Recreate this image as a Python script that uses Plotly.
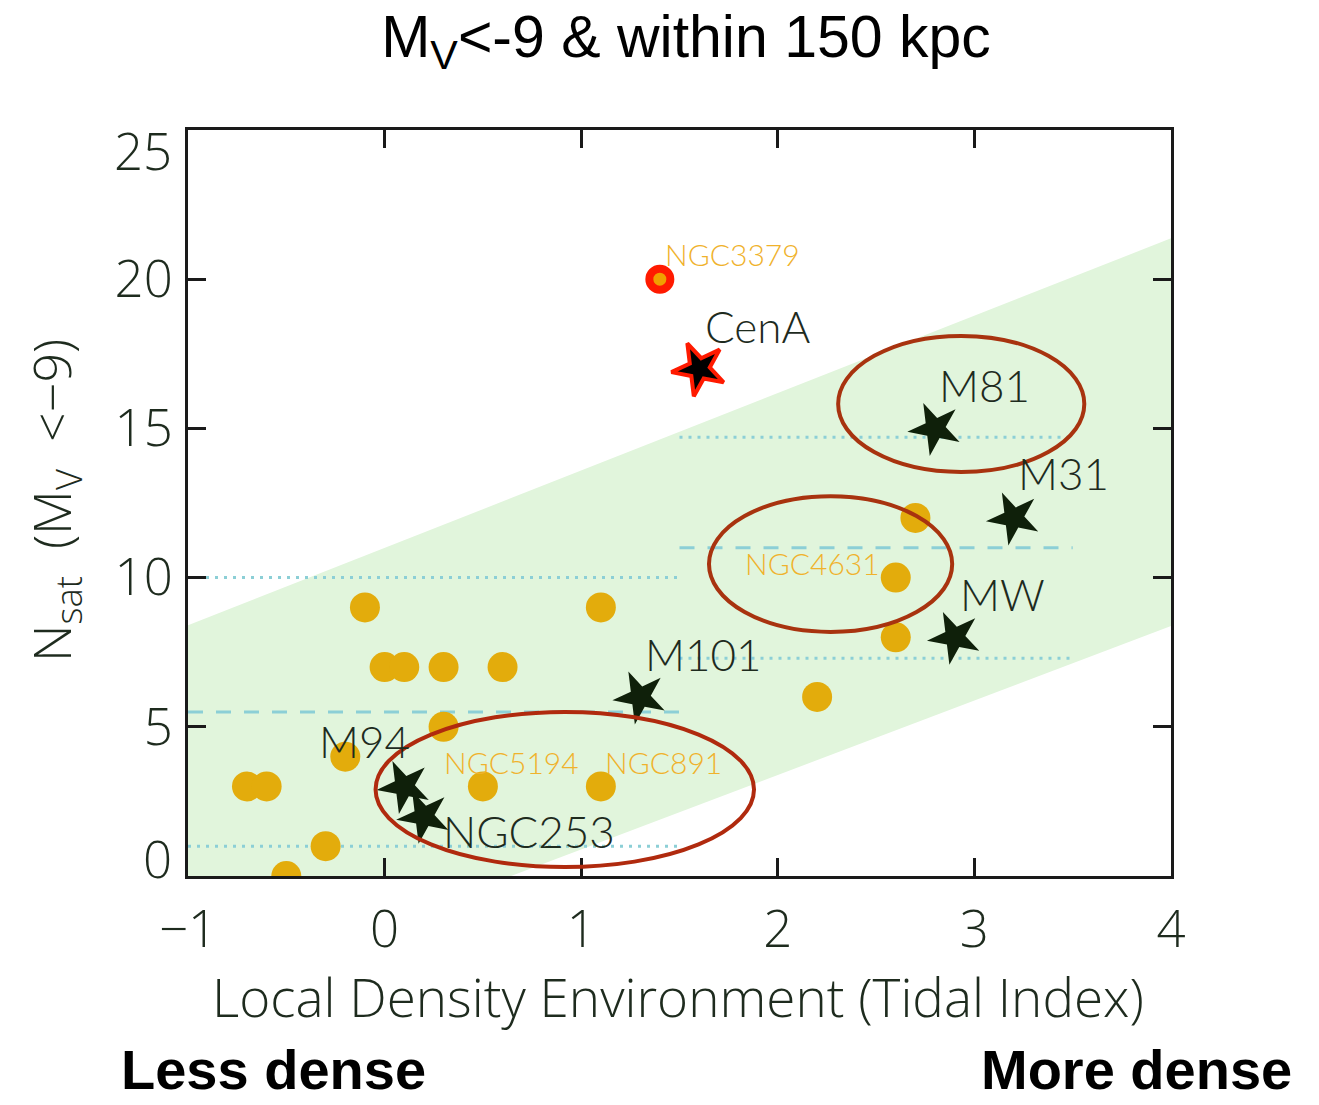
import plotly.graph_objects as go

# ---- data -------------------------------------------------------------
# Hosts with a well-surveyed satellite population (stars)
host_names = ["CenA", "M81", "M31", "MW", "M101", "M94", "NGC253"]
host_tidal = [1.6, 2.8, 3.2, 2.9, 1.3, 0.1, 0.2]
host_nsat = [17, 15, 12, 8, 6, 3, 2]

# Other hosts (filled circles)
other_tidal = [-0.1, 1.1, 0.0, 0.1, 0.3, 0.6, 0.3, -0.2, -0.7, -0.6,
               0.5, 1.1, -0.3, -0.5, 2.2, 2.6, 2.6, 2.7]
other_nsat = [9, 9, 7, 7, 7, 7, 5, 4, 3, 3,
              3, 3, 1, 0, 6, 8, 10, 12]

# Outlier host
outlier_name = "NGC3379"
outlier_tidal = [1.4]
outlier_nsat = [20]

# Named circle hosts
named_other = ["NGC5194", "NGC891", "NGC4631"]
named_tidal = [0.5, 1.1, 2.6]
named_nsat = [3, 3, 10]

# Mean +/- sigma of N_sat in two tidal-index bins
bin_lo = [-1.0, 1.5]
bin_hi = [1.5, 3.5]
bin_mean = [5.5, 11.0]
bin_sigma = [4.5, 3.7]

# Envelope of the N_sat - tidal index trend
band_x = [-1.0, 4.05]
band_upper = [8.4, 21.5]
band_lower = [-4.1, 8.5]

x_ticks = [-1, 0, 1, 2, 3, 4]
y_ticks = [0, 5, 10, 15, 20, 25]

# ---- geometry / style -------------------------------------------------
W, H = 1319, 1105
L, R, T, B = 188, 1171, 130, 876          # plot-area edges in pixels
XR, YR = [-1, 4], [0, 25]

def px_x(p):
    return (p - L) / (R - L)

def px_y(p):
    return (B - p) / (B - T)

LIGHT = "Lato"
WIDE = "Open Sans"
INK = "#1e2b1e"
GOLD = "#e3ac0c"
LABEL_GOLD = "#f0b22c"
STAR = "#0f200a"
REF = "#8ccfd6"
RING = "#a8330f"

fig = go.Figure()

# trend envelope
fig.add_trace(go.Scatter(
    x=band_x + band_x[::-1], y=band_upper + band_lower[::-1],
    fill="toself", fillcolor="#e1f5dc", line=dict(width=0),
    mode="lines", hoverinfo="skip", showlegend=False))

# bin mean (dashed) and +/- sigma (dotted)
for lo, hi, m, s in zip(bin_lo, bin_hi, bin_mean, bin_sigma):
    fig.add_trace(go.Scatter(x=[lo, hi], y=[m, m], mode="lines",
                             line=dict(color=REF, width=3, dash="15px,13px"),
                             showlegend=False, hoverinfo="skip"))
    for v in (m - s, m + s):
        fig.add_trace(go.Scatter(x=[lo, hi], y=[v, v], mode="lines",
                                 line=dict(color=REF, width=3, dash="3px,6px"),
                                 showlegend=False, hoverinfo="skip"))

# other hosts
fig.add_trace(go.Scatter(x=other_tidal, y=other_nsat, mode="markers",
                         marker=dict(symbol="circle", size=30, color=GOLD,
                                     line=dict(width=0)),
                         cliponaxis=True, showlegend=False))

# outlier
fig.add_trace(go.Scatter(x=outlier_tidal, y=outlier_nsat, mode="markers",
                         marker=dict(symbol="circle", size=21, color="#f0a000",
                                     line=dict(width=8, color="#ff1a00")),
                         showlegend=False))

# hosts (stars); CenA gets a red rim
rims = ["#ff1a00" if n == "CenA" else STAR for n in host_names]
rim_w = [4 if n == "CenA" else 0 for n in host_names]
fills = ["#000000" if n == "CenA" else STAR for n in host_names]
fig.add_trace(go.Scatter(x=host_tidal, y=host_nsat, mode="markers",
                         marker=dict(symbol="star", size=40, color=fills, angle=-25,
                                     line=dict(width=rim_w, color=rims)),
                         showlegend=False))

# ---- labels -----------------------------------------------------------
host_offsets = {  # (xshift, yshift, xanchor)
    "CenA": (4, 43, "left"), "M81": (2, 43, "left"), "M31": (2, 45, "left"),
    "MW": (3, 43, "left"), "M101": (3, 43, "left"), "M94": (8, 45, "right"),
    "NGC253": (17, -15, "left"),
}
for n, xv, yv in zip(host_names, host_tidal, host_nsat):
    dx, dy, anc = host_offsets[n]
    fig.add_annotation(x=xv, y=yv, text=n, showarrow=False, xanchor=anc,
                       yanchor="middle", xshift=dx, yshift=dy,
                       font=dict(family=LIGHT, size=44, color=INK, weight=300))

other_offsets = {"NGC5194": (-41, 24, "left"), "NGC891": (2, 24, "left"),
                 "NGC4631": (-14, 15, "right")}
for n, xv, yv in zip(named_other, named_tidal, named_nsat):
    dx, dy, anc = other_offsets[n]
    fig.add_annotation(x=xv, y=yv, text=n, showarrow=False, xanchor=anc,
                       yanchor="middle", xshift=dx, yshift=dy,
                       font=dict(family=LIGHT, size=30, color=LABEL_GOLD, weight=300))
fig.add_annotation(x=outlier_tidal[0], y=outlier_nsat[0], text=outlier_name,
                   showarrow=False, xanchor="left", yanchor="middle",
                   xshift=3, yshift=25,
                   font=dict(family=LIGHT, size=30, color=LABEL_GOLD, weight=300))

# highlighted groups
for (x0, x1, y0, y1), col in [((2.307, 3.559, 13.54, 18.10), RING),
                              ((1.65, 2.887, 8.18, 12.73), RING),
                              ((-0.046, 1.879, 0.30, 5.50), "#b02a0e")]:
    fig.add_shape(type="circle", xref="x", yref="y", x0=x0, x1=x1, y0=y0, y1=y1,
                  line=dict(color=col, width=4), layer="above")

# y labels at the frame corners sit inside the frame
tick_font = dict(family=WIDE, size=51, color=INK, weight=300)
fig.add_annotation(xref="paper", yref="y", x=0, y=y_ticks[0], text=str(y_ticks[0]),
                   showarrow=False, xanchor="right", yanchor="middle",
                   xshift=-14, yshift=18, font=tick_font)
fig.add_annotation(xref="paper", yref="y", x=0, y=y_ticks[-1], text=str(y_ticks[-1]),
                   showarrow=False, xanchor="right", yanchor="middle",
                   xshift=-14, yshift=-20, font=tick_font)

# axis titles
fig.add_annotation(xref="paper", yref="paper", x=px_x(678), y=px_y(996),
                   text="Local Density Environment (Tidal Index)", showarrow=False,
                   xanchor="center", yanchor="middle",
                   font=dict(family=WIDE, size=53, color=INK, weight=300))
fig.add_annotation(xref="paper", yref="paper", x=px_x(54), y=px_y(501), textangle=-90,
                   text="N<sub>sat</sub>&nbsp; (M<sub>V</sub>&nbsp; &lt;\u22129)",
                   showarrow=False, xanchor="center", yanchor="middle",
                   font=dict(family=WIDE, size=52, color=INK, weight=300))

# density direction captions
caption_font = dict(family="Liberation Sans", size=56, color="#000000", weight="bold")
fig.add_annotation(xref="paper", yref="paper", x=px_x(119), y=px_y(1069),
                   text="Less dense", showarrow=False, xanchor="left", yanchor="middle",
                   font=caption_font)
fig.add_annotation(xref="paper", yref="paper", x=px_x(1294), y=px_y(1069),
                   text="More dense", showarrow=False, xanchor="right", yanchor="middle",
                   font=caption_font)

axis_common = dict(showline=True, linecolor="#1a1a1a", linewidth=3, mirror="ticks",
                   ticks="inside", ticklen=18, tickwidth=3, tickcolor="#1a1a1a",
                   showgrid=False, zeroline=False, tickfont=tick_font)

fig.update_layout(
    width=W, height=H,
    margin=dict(l=L, r=W - R, t=T, b=H - B, autoexpand=False),
    plot_bgcolor="white", paper_bgcolor="white",
    title=dict(text="M<sub>V</sub>&lt;-9 &amp; within 150 kpc", xref="container",
               yref="container", x=686 / W, y=1 - 36 / H, xanchor="center",
               yanchor="middle",
               font=dict(family="Liberation Sans", size=59, color="#000000")),
    xaxis=dict(range=XR, tickvals=x_ticks, ticklabelstandoff=7, **axis_common),
    # interior ticks only; the end values are labelled inside the frame above
    yaxis=dict(range=YR, tickvals=y_ticks[1:-1], ticklabelstandoff=2, **axis_common),
    showlegend=False,
)

fig.write_html("out.html")
